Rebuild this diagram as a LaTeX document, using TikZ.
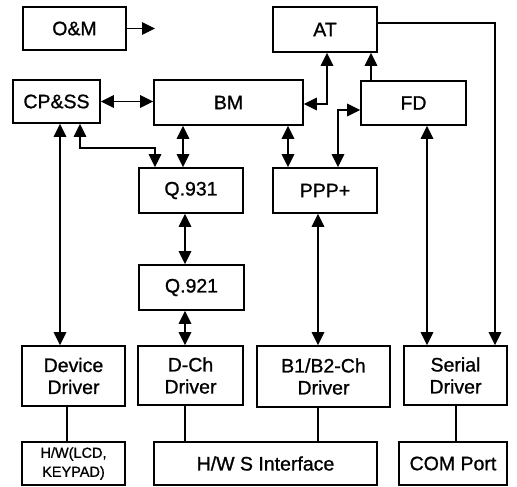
\documentclass[tikz,border=0pt]{standalone}
\usepackage{fontspec}
\setmainfont[FakeBold=1]{Liberation Sans}
\usetikzlibrary{arrows.meta}
\begin{document}
\begin{tikzpicture}[x=1pt,y=-1pt,
  box/.style={draw,line width=1.8pt,inner sep=0pt,align=center,
    font=\fontsize{19.5}{22}\selectfont},
  link/.style={line width=1.6pt},
  headtip/.tip={Triangle[length=13pt,width=12.5pt]},
  both/.style={link,headtip-headtip},
  fwd/.style={link,-headtip}]
\useasboundingbox (0,0) rectangle (517,487);

% top row
\node[box,minimum width=103pt,minimum height=43pt] (om) at (74.5,28.5) {O\&M};
\node[box,minimum width=104pt,minimum height=45pt] (at) at (325,29.5) {AT};
% second row
\node[box,minimum width=87pt,minimum height=43pt] (cpss) at (56.5,101.5) {CP\&SS};
\node[box,minimum width=149pt,minimum height=45pt] (bm) at (228.5,102.5) {BM};
\node[box,minimum width=105pt,minimum height=44pt] (fd) at (413.5,103) {FD};
% protocol layers
\node[box,minimum width=104pt,minimum height=45pt] (q931) at (191,190.5) {Q.931};
\node[box,minimum width=105pt,minimum height=45pt] (q921) at (191.5,287.5) {Q.921};
\node[box,minimum width=104pt,minimum height=45pt] (ppp) at (325,190.5) {PPP+};
% drivers
\node[box,minimum width=103pt,minimum height=60pt] (dev) at (73.5,376) {Device\\Driver};
\node[box,minimum width=105pt,minimum height=59pt] (dch) at (190.5,375.5) {D-Ch\\Driver};
\node[box,minimum width=133pt,minimum height=61pt] (b12) at (323.5,376.5) {B1/B2-Ch\\Driver};
\node[box,minimum width=103pt,minimum height=59pt] (ser) at (455.5,375.5) {Serial\\Driver};
% hardware
\node[box,minimum width=103pt,minimum height=43pt,font=\fontsize{14.5}{19}\selectfont] (hwl) at (73.5,463.5) {H/W(LCD,\\KEYPAD)};
\node[box,minimum width=223pt,minimum height=43pt] (hws) at (265.5,463.5) {H/W S Interface};
\node[box,minimum width=108pt,minimum height=43pt] (com) at (453,463.5) {COM Port};

\coordinate (omout) at (155,28.5);

% connectors
\draw[fwd] (om.east) -- (omout);
\draw[both] (cpss.east) -- (cpss.east -| bm.west);
\draw[both] (60,0 |- cpss.south) -- (60,0 |- dev.north);
\draw[both] (80,0 |- cpss.south) -- (80,148) -- (155,148) -- (155,0 |- q931.north);
\draw[both] (183,0 |- bm.south) -- (183,0 |- q931.north);
\draw[both] (bm.east |- 0,104) -- (327,104) -- (327,0 |- at.south);
\draw[fwd] (371,0 |- fd.north) -- (371,0 |- at.south);
\draw[both] (288,0 |- bm.south) -- (288,0 |- ppp.north);
\draw[both] (338,0 |- ppp.north) -- (338,110) -- (fd.west |- 0,110);
\draw[fwd] (at.east |- 0,23) -- (495,23) -- (495,0 |- ser.north);
\draw[both] (427,0 |- fd.south) -- (427,0 |- ser.north);
\draw[both] (185,0 |- q931.south) -- (185,0 |- q921.north);
\draw[both] (185,0 |- q921.south) -- (185,0 |- dch.north);
\draw[both] (318,0 |- ppp.south) -- (318,0 |- b12.north);
% plain attachments to hardware
\draw[link] (67,0 |- dev.south) -- (67,0 |- hwl.north);
\draw[link] (185,0 |- dch.south) -- (185,0 |- hws.north);
\draw[link] (318,0 |- b12.south) -- (318,0 |- hws.north);
\draw[link] (456,0 |- ser.south) -- (456,0 |- com.north);
\end{tikzpicture}
\end{document}
